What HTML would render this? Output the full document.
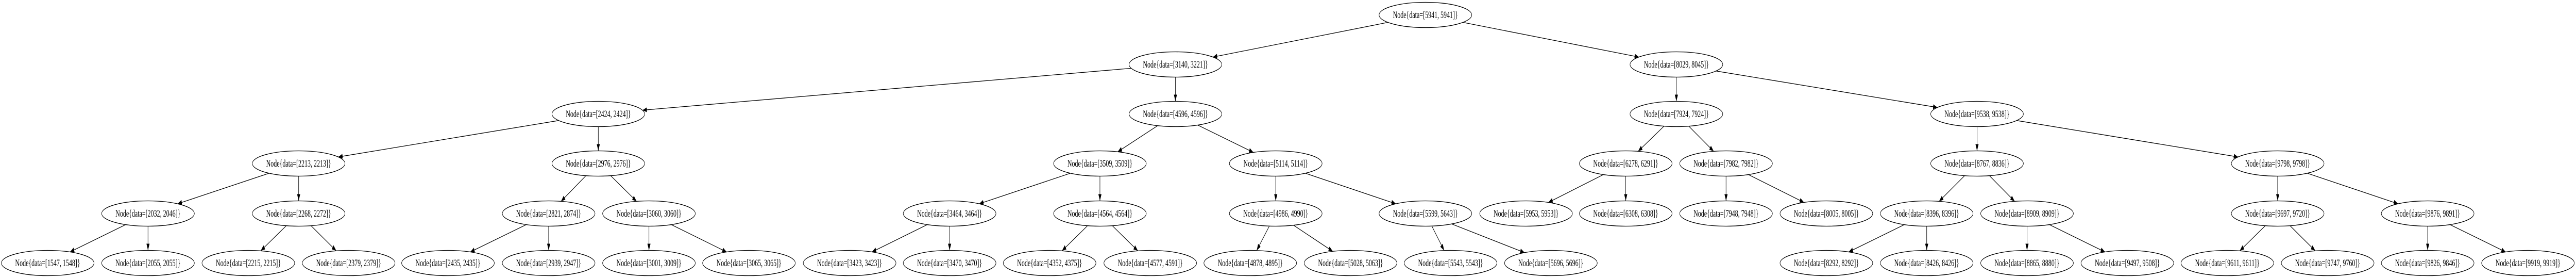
<!DOCTYPE html>
<html><head><meta charset="utf-8"><style>
html,body{margin:0;padding:0;background:#fff;overflow:hidden;width:100%;height:100%;}
svg{display:block;position:absolute;left:0;top:0;width:100vw;height:100vh;}
text{font-family:"Liberation Serif","Times New Roman",serif;font-size:18.67px;text-anchor:middle;fill:#000;}
ellipse{fill:none;stroke:#000;stroke-width:1.3;}
line{stroke:#000;stroke-width:1.3;}
</style></head><body>
<svg viewBox="0 0 7780 539" preserveAspectRatio="none" xmlns="http://www.w3.org/2000/svg">
<defs><marker id="a" markerUnits="userSpaceOnUse" markerWidth="14" markerHeight="10" refX="13" refY="5" orient="auto" overflow="hidden"><path d="M0,0.3 L13,5 L0,9.7 Z" fill="#000"/></marker></defs>
<g>
<line x1="4191.8" y1="43.4" x2="3663.2" y2="110.6" marker-end="url(#a)"/>
<line x1="4418.2" y1="43.4" x2="4949.8" y2="110.6" marker-end="url(#a)"/>
<line x1="3416.4" y1="132.4" x2="1940.6" y2="213.6" marker-end="url(#a)"/>
<line x1="3550" y1="149.5" x2="3550" y2="196.5" marker-end="url(#a)"/>
<line x1="5063" y1="149.5" x2="5063" y2="196.5" marker-end="url(#a)"/>
<line x1="5182.7" y1="137.7" x2="5851.3" y2="208.3" marker-end="url(#a)"/>
<line x1="1687.3" y1="233.7" x2="1021.7" y2="304.3" marker-end="url(#a)"/>
<line x1="1807" y1="245.5" x2="1807" y2="292.5" marker-end="url(#a)"/>
<line x1="3496.4" y1="243.6" x2="3375.6" y2="294.4" marker-end="url(#a)"/>
<line x1="3617.4" y1="242.5" x2="3785.6" y2="295.5" marker-end="url(#a)"/>
<line x1="5025.7" y1="244.6" x2="4947.3" y2="293.4" marker-end="url(#a)"/>
<line x1="5100.3" y1="244.6" x2="5175.7" y2="293.4" marker-end="url(#a)"/>
<line x1="5971" y1="245.5" x2="5971" y2="292.5" marker-end="url(#a)"/>
<line x1="6090.7" y1="233.7" x2="6759.3" y2="304.3" marker-end="url(#a)"/>
<line x1="812.7" y1="335.9" x2="536.3" y2="395.1" marker-end="url(#a)"/>
<line x1="902" y1="341.5" x2="902" y2="389.5" marker-end="url(#a)"/>
<line x1="1769.7" y1="340.6" x2="1694.3" y2="390.4" marker-end="url(#a)"/>
<line x1="1844.3" y1="340.6" x2="1922.7" y2="390.4" marker-end="url(#a)"/>
<line x1="3232.7" y1="335.9" x2="2957.3" y2="395.1" marker-end="url(#a)"/>
<line x1="3322" y1="341.5" x2="3322" y2="389.5" marker-end="url(#a)"/>
<line x1="3853" y1="341.5" x2="3853" y2="389.5" marker-end="url(#a)"/>
<line x1="3942.3" y1="335.9" x2="4215.7" y2="395.1" marker-end="url(#a)"/>
<line x1="4842.6" y1="338.5" x2="4676.4" y2="392.5" marker-end="url(#a)"/>
<line x1="4910" y1="341.5" x2="4910" y2="389.5" marker-end="url(#a)"/>
<line x1="5213" y1="341.5" x2="5213" y2="389.5" marker-end="url(#a)"/>
<line x1="5280.4" y1="338.5" x2="5448.6" y2="392.5" marker-end="url(#a)"/>
<line x1="5933.7" y1="340.6" x2="5856.3" y2="390.4" marker-end="url(#a)"/>
<line x1="6008.3" y1="340.6" x2="6084.7" y2="390.4" marker-end="url(#a)"/>
<line x1="6879" y1="341.5" x2="6879" y2="389.5" marker-end="url(#a)"/>
<line x1="6968.3" y1="335.9" x2="7242.7" y2="395.1" marker-end="url(#a)"/>
<line x1="379.6" y1="435.5" x2="211.4" y2="488.5" marker-end="url(#a)"/>
<line x1="447" y1="438.5" x2="447" y2="485.5" marker-end="url(#a)"/>
<line x1="864.7" y1="437.6" x2="787.3" y2="486.4" marker-end="url(#a)"/>
<line x1="939.3" y1="437.6" x2="1015.7" y2="486.4" marker-end="url(#a)"/>
<line x1="1589.6" y1="435.5" x2="1420.4" y2="488.5" marker-end="url(#a)"/>
<line x1="1657" y1="438.5" x2="1657" y2="485.5" marker-end="url(#a)"/>
<line x1="1960" y1="438.5" x2="1960" y2="485.5" marker-end="url(#a)"/>
<line x1="2027.4" y1="435.5" x2="2194.6" y2="488.5" marker-end="url(#a)"/>
<line x1="2800.6" y1="435.5" x2="2633.4" y2="488.5" marker-end="url(#a)"/>
<line x1="2868" y1="438.5" x2="2868" y2="485.5" marker-end="url(#a)"/>
<line x1="3284.7" y1="437.6" x2="3207.3" y2="486.4" marker-end="url(#a)"/>
<line x1="3359.3" y1="437.6" x2="3436.7" y2="486.4" marker-end="url(#a)"/>
<line x1="3833.6" y1="438.3" x2="3795.4" y2="485.7" marker-end="url(#a)"/>
<line x1="3906.6" y1="436.6" x2="4025.4" y2="487.4" marker-end="url(#a)"/>
<line x1="4324.4" y1="438.3" x2="4361.6" y2="485.7" marker-end="url(#a)"/>
<line x1="4384.5" y1="434.2" x2="4604.5" y2="489.8" marker-end="url(#a)"/>
<line x1="5751.6" y1="435.5" x2="5583.4" y2="488.5" marker-end="url(#a)"/>
<line x1="5819" y1="438.5" x2="5819" y2="485.5" marker-end="url(#a)"/>
<line x1="6122" y1="438.5" x2="6122" y2="485.5" marker-end="url(#a)"/>
<line x1="6189.4" y1="435.5" x2="6357.6" y2="488.5" marker-end="url(#a)"/>
<line x1="6841.7" y1="437.6" x2="6764.3" y2="486.4" marker-end="url(#a)"/>
<line x1="6916.3" y1="437.6" x2="6992.7" y2="486.4" marker-end="url(#a)"/>
<line x1="7332" y1="438.5" x2="7332" y2="485.5" marker-end="url(#a)"/>
<line x1="7399.4" y1="435.5" x2="7567.6" y2="488.5" marker-end="url(#a)"/>
</g>
<ellipse cx="4305" cy="29" rx="140" ry="24.5"/><text x="4305" y="35">Node{data=[5941, 5941]}</text>
<ellipse cx="3550" cy="125" rx="140" ry="24.5"/><text x="3550" y="131">Node{data=[3140, 3221]}</text>
<ellipse cx="5063" cy="125" rx="140" ry="24.5"/><text x="5063" y="131">Node{data=[8029, 8045]}</text>
<ellipse cx="1807" cy="221" rx="140" ry="24.5"/><text x="1807" y="227">Node{data=[2424, 2424]}</text>
<ellipse cx="3550" cy="221" rx="140" ry="24.5"/><text x="3550" y="227">Node{data=[4596, 4596]}</text>
<ellipse cx="5063" cy="221" rx="140" ry="24.5"/><text x="5063" y="227">Node{data=[7924, 7924]}</text>
<ellipse cx="5971" cy="221" rx="140" ry="24.5"/><text x="5971" y="227">Node{data=[9538, 9538]}</text>
<ellipse cx="902" cy="317" rx="140" ry="24.5"/><text x="902" y="323">Node{data=[2213, 2213]}</text>
<ellipse cx="1807" cy="317" rx="140" ry="24.5"/><text x="1807" y="323">Node{data=[2976, 2976]}</text>
<ellipse cx="3322" cy="317" rx="140" ry="24.5"/><text x="3322" y="323">Node{data=[3509, 3509]}</text>
<ellipse cx="3853" cy="317" rx="140" ry="24.5"/><text x="3853" y="323">Node{data=[5114, 5114]}</text>
<ellipse cx="4910" cy="317" rx="140" ry="24.5"/><text x="4910" y="323">Node{data=[6278, 6291]}</text>
<ellipse cx="5213" cy="317" rx="140" ry="24.5"/><text x="5213" y="323">Node{data=[7982, 7982]}</text>
<ellipse cx="5971" cy="317" rx="140" ry="24.5"/><text x="5971" y="323">Node{data=[8767, 8836]}</text>
<ellipse cx="6879" cy="317" rx="140" ry="24.5"/><text x="6879" y="323">Node{data=[9798, 9798]}</text>
<ellipse cx="447" cy="414" rx="140" ry="24.5"/><text x="447" y="420">Node{data=[2032, 2046]}</text>
<ellipse cx="902" cy="414" rx="140" ry="24.5"/><text x="902" y="420">Node{data=[2268, 2272]}</text>
<ellipse cx="1657" cy="414" rx="140" ry="24.5"/><text x="1657" y="420">Node{data=[2821, 2874]}</text>
<ellipse cx="1960" cy="414" rx="140" ry="24.5"/><text x="1960" y="420">Node{data=[3060, 3060]}</text>
<ellipse cx="2868" cy="414" rx="140" ry="24.5"/><text x="2868" y="420">Node{data=[3464, 3464]}</text>
<ellipse cx="3322" cy="414" rx="140" ry="24.5"/><text x="3322" y="420">Node{data=[4564, 4564]}</text>
<ellipse cx="3853" cy="414" rx="140" ry="24.5"/><text x="3853" y="420">Node{data=[4986, 4990]}</text>
<ellipse cx="4305" cy="414" rx="140" ry="24.5"/><text x="4305" y="420">Node{data=[5599, 5643]}</text>
<ellipse cx="4609" cy="414" rx="140" ry="24.5"/><text x="4609" y="420">Node{data=[5953, 5953]}</text>
<ellipse cx="4910" cy="414" rx="140" ry="24.5"/><text x="4910" y="420">Node{data=[6308, 6308]}</text>
<ellipse cx="5213" cy="414" rx="140" ry="24.5"/><text x="5213" y="420">Node{data=[7948, 7948]}</text>
<ellipse cx="5516" cy="414" rx="140" ry="24.5"/><text x="5516" y="420">Node{data=[8005, 8005]}</text>
<ellipse cx="5819" cy="414" rx="140" ry="24.5"/><text x="5819" y="420">Node{data=[8396, 8396]}</text>
<ellipse cx="6122" cy="414" rx="140" ry="24.5"/><text x="6122" y="420">Node{data=[8909, 8909]}</text>
<ellipse cx="6879" cy="414" rx="140" ry="24.5"/><text x="6879" y="420">Node{data=[9697, 9720]}</text>
<ellipse cx="7332" cy="414" rx="140" ry="24.5"/><text x="7332" y="420">Node{data=[9876, 9891]}</text>
<ellipse cx="144" cy="510" rx="140" ry="24.5"/><text x="144" y="516">Node{data=[1547, 1548]}</text>
<ellipse cx="447" cy="510" rx="140" ry="24.5"/><text x="447" y="516">Node{data=[2055, 2055]}</text>
<ellipse cx="750" cy="510" rx="140" ry="24.5"/><text x="750" y="516">Node{data=[2215, 2215]}</text>
<ellipse cx="1053" cy="510" rx="140" ry="24.5"/><text x="1053" y="516">Node{data=[2379, 2379]}</text>
<ellipse cx="1353" cy="510" rx="140" ry="24.5"/><text x="1353" y="516">Node{data=[2435, 2435]}</text>
<ellipse cx="1657" cy="510" rx="140" ry="24.5"/><text x="1657" y="516">Node{data=[2939, 2947]}</text>
<ellipse cx="1960" cy="510" rx="140" ry="24.5"/><text x="1960" y="516">Node{data=[3001, 3009]}</text>
<ellipse cx="2262" cy="510" rx="140" ry="24.5"/><text x="2262" y="516">Node{data=[3065, 3065]}</text>
<ellipse cx="2566" cy="510" rx="140" ry="24.5"/><text x="2566" y="516">Node{data=[3423, 3423]}</text>
<ellipse cx="2868" cy="510" rx="140" ry="24.5"/><text x="2868" y="516">Node{data=[3470, 3470]}</text>
<ellipse cx="3170" cy="510" rx="140" ry="24.5"/><text x="3170" y="516">Node{data=[4352, 4375]}</text>
<ellipse cx="3474" cy="510" rx="140" ry="24.5"/><text x="3474" y="516">Node{data=[4577, 4591]}</text>
<ellipse cx="3776" cy="510" rx="140" ry="24.5"/><text x="3776" y="516">Node{data=[4878, 4895]}</text>
<ellipse cx="4079" cy="510" rx="140" ry="24.5"/><text x="4079" y="516">Node{data=[5028, 5063]}</text>
<ellipse cx="4381" cy="510" rx="140" ry="24.5"/><text x="4381" y="516">Node{data=[5543, 5543]}</text>
<ellipse cx="4684" cy="510" rx="140" ry="24.5"/><text x="4684" y="516">Node{data=[5696, 5696]}</text>
<ellipse cx="5516" cy="510" rx="140" ry="24.5"/><text x="5516" y="516">Node{data=[8292, 8292]}</text>
<ellipse cx="5819" cy="510" rx="140" ry="24.5"/><text x="5819" y="516">Node{data=[8426, 8426]}</text>
<ellipse cx="6122" cy="510" rx="140" ry="24.5"/><text x="6122" y="516">Node{data=[8865, 8880]}</text>
<ellipse cx="6425" cy="510" rx="140" ry="24.5"/><text x="6425" y="516">Node{data=[9497, 9508]}</text>
<ellipse cx="6727" cy="510" rx="140" ry="24.5"/><text x="6727" y="516">Node{data=[9611, 9611]}</text>
<ellipse cx="7030" cy="510" rx="140" ry="24.5"/><text x="7030" y="516">Node{data=[9747, 9760]}</text>
<ellipse cx="7332" cy="510" rx="140" ry="24.5"/><text x="7332" y="516">Node{data=[9826, 9846]}</text>
<ellipse cx="7635" cy="510" rx="140" ry="24.5"/><text x="7635" y="516">Node{data=[9919, 9919]}</text>
</svg>
</body></html>
